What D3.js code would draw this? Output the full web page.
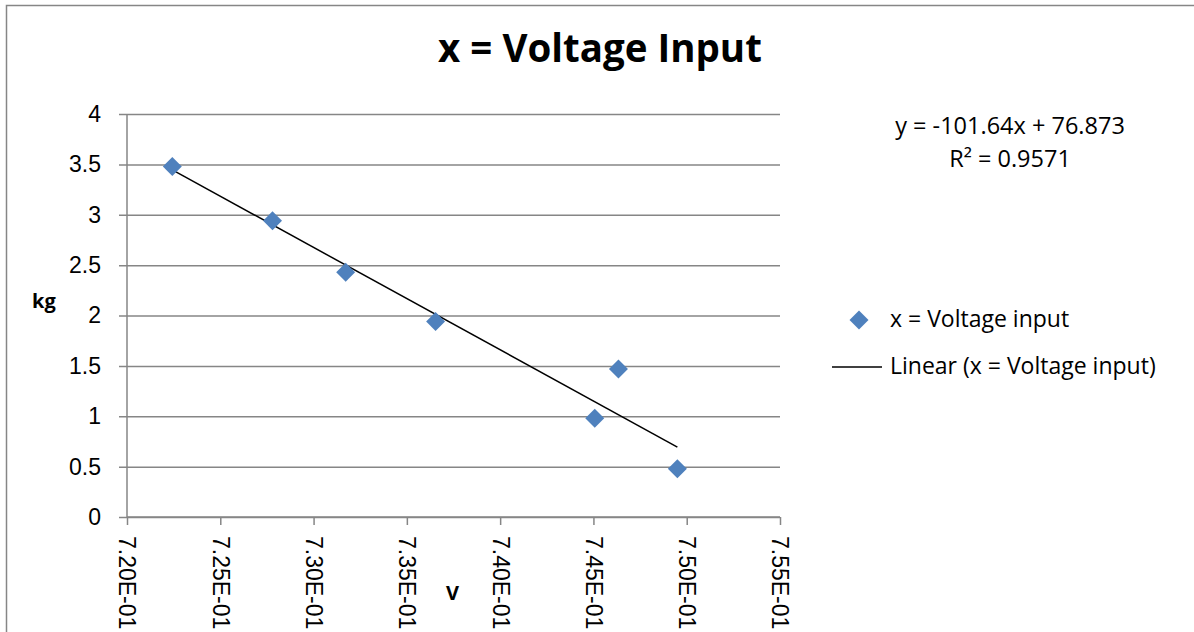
<!DOCTYPE html>
<html>
<head>
<meta charset="utf-8">
<script src="https://cdn.jsdelivr.net/npm/d3@7"></script>
<style>
  body { margin: 0; background: #fff; }
  svg { display: block; font-family: "Open Sans", Lato, sans-serif; }
</style>
</head>
<body>
<svg id="chart" width="1194" height="632"></svg>
<script>
const svg = d3.select('#chart')
const pointColor = '#4f81bd'
const gridColor = '#868686'

// data
const voltage = [0.72243, 0.72780, 0.73172, 0.73654, 0.74507, 0.74634, 0.74950]
const mass = [3.48, 2.94, 2.43, 1.94, 0.98, 1.47, 0.48]
const xTicks = [0.720, 0.725, 0.730, 0.735, 0.740, 0.745, 0.750, 0.755]
const yTicks = [0, 0.5, 1, 1.5, 2, 2.5, 3, 3.5, 4]
const slope = -101.64
const intercept = 76.873
const rSquared = 0.9571

const plotLeft = 127, plotRight = 780, plotTop = 114, plotBottom = 517

const xScale = d3.scaleLinear().domain([0.72, 0.755]).range([plotLeft, plotRight])
const yScale = d3.scaleLinear().domain([0, 4]).range([plotBottom, plotTop])

// label like 7.20E-01
const sciFormat = d => (d * 10).toFixed(2) + 'E-01'

// chart border
svg.append('rect')
  .attr('x', 6.5).attr('y', 5.5)
  .attr('width', 1200).attr('height', 700)
  .attr('fill', 'none')
  .attr('stroke', gridColor)
  .attr('stroke-width', 1.5)

// y axis with gridlines
const yAxis = d3.axisLeft(yScale)
  .tickValues(yTicks)
  .tickFormat(d => d)
  .tickSize(-(plotRight - plotLeft))

const gy = svg.append('g')
  .attr('transform', `translate(${plotLeft}, 0)`)
  .call(yAxis)

gy.selectAll('.tick line')
  .attr('x1', -8)
  .style('stroke', gridColor)
  .style('stroke-width', 1.5)
gy.selectAll('.tick text')
  .attr('x', -26)
  .style('font-size', '23px')
  .style('fill', '#000')
gy.select('path.domain').remove()

svg.append('line')
  .attr('x1', plotLeft).attr('x2', plotLeft)
  .attr('y1', plotTop).attr('y2', plotBottom)
  .attr('stroke', gridColor)
  .attr('stroke-width', 1.5)

// x axis
const xAxis = d3.axisBottom(xScale)
  .tickValues(xTicks)
  .tickSize(8)
  .tickFormat(sciFormat)

const gx = svg.append('g')
  .attr('transform', `translate(0, ${plotBottom})`)
  .call(xAxis)

gx.select('path.domain')
  .attr('d', `M${plotLeft},0H${plotRight}`)
  .style('stroke', gridColor)
  .style('stroke-width', 1.5)
gx.selectAll('.tick line')
  .style('stroke', gridColor)
  .style('stroke-width', 1.5)
gx.selectAll('.tick text')
  .attr('transform', 'rotate(90)')
  .attr('x', 19)
  .attr('y', 0)
  .attr('dy', '0.35em')
  .style('text-anchor', 'start')
  .style('font-size', '23px')
  .style('fill', '#000')

// trendline
const xExtent = d3.extent(voltage)
svg.append('line')
  .attr('x1', xScale(xExtent[0])).attr('y1', yScale(slope * xExtent[0] + intercept))
  .attr('x2', xScale(xExtent[1])).attr('y2', yScale(slope * xExtent[1] + intercept))
  .attr('stroke', '#000')
  .attr('stroke-width', 1.5)

// points
const diamond = d3.symbol().type(d3.symbolSquare).size(180)
svg.selectAll('path.pt')
  .data(voltage)
  .enter()
  .append('path')
  .attr('class', 'pt')
  .attr('d', diamond)
  .attr('transform', (d, i) => `translate(${xScale(d)}, ${yScale(mass[i])}) rotate(45)`)
  .attr('fill', pointColor)

// title and axis labels
svg.append('text')
  .attr('x', 600).attr('y', 62)
  .attr('text-anchor', 'middle')
  .attr('font-weight', 'bold')
  .attr('font-size', '38.5px')
  .text('x = Voltage Input')

svg.append('text')
  .attr('x', 32).attr('y', 308)
  .attr('font-weight', 'bold')
  .attr('font-size', '20px')
  .text('kg')

svg.append('text')
  .attr('x', 446).attr('y', 600)
  .attr('font-weight', 'bold')
  .attr('font-size', '20px')
  .text('V')

// trendline equation
svg.append('text')
  .attr('x', 1010).attr('y', 134)
  .attr('text-anchor', 'middle')
  .attr('font-size', '23.5px')
  .text(`y = ${slope}x + ${intercept}`)

svg.append('text')
  .attr('x', 1010).attr('y', 167)
  .attr('text-anchor', 'middle')
  .attr('font-size', '23.5px')
  .text(`R² = ${rSquared}`)

// legend
svg.append('path')
  .attr('d', diamond)
  .attr('transform', 'translate(859, 320) rotate(45)')
  .attr('fill', pointColor)

svg.append('text')
  .attr('x', 890).attr('y', 327)
  .attr('font-size', '23px')
  .text('x = Voltage input')

svg.append('line')
  .attr('x1', 832).attr('x2', 882)
  .attr('y1', 367).attr('y2', 367)
  .attr('stroke', '#000')
  .attr('stroke-width', 1.5)

svg.append('text')
  .attr('x', 890).attr('y', 374)
  .attr('font-size', '23px')
  .text('Linear (x = Voltage input)')
</script>
</body>
</html>
